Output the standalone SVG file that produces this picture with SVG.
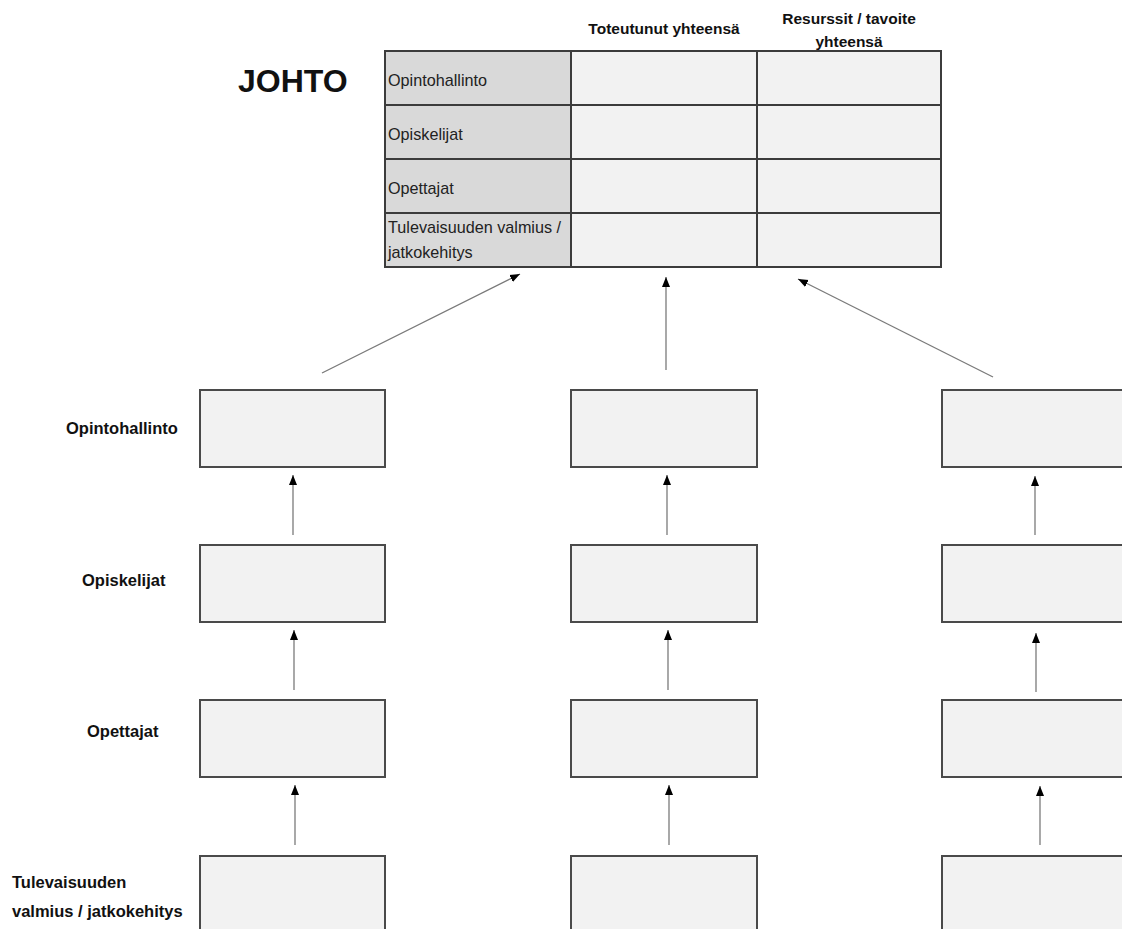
<svg xmlns="http://www.w3.org/2000/svg" width="1122" height="929" viewBox="0 0 1122 929">
<defs>
<marker id="ah" markerUnits="userSpaceOnUse" markerWidth="10" markerHeight="10" viewBox="0 0 10 10" refX="10" refY="5" orient="auto">
<path d="M0,1 L10,5 L0,9 Z" fill="#000"/>
</marker>
<style>
.box{fill:#f2f2f2;stroke:#4a4a4a;stroke-width:2}
.hd{fill:#d9d9d9;stroke:#3c3c3c;stroke-width:2}
.cell{fill:#f2f2f2;stroke:#3c3c3c;stroke-width:2}
.con{stroke:#7a7a7a;stroke-width:1.3;fill:none;marker-end:url(#ah)}
.lbl{font-family:"Liberation Sans",Arial,sans-serif;font-weight:bold;font-size:16.5px;fill:#111}
.cl{font-family:"Liberation Sans",Arial,sans-serif;font-size:16.2px;fill:#222}
.th{font-family:"Liberation Sans",Arial,sans-serif;font-weight:bold;font-size:15.5px;fill:#111}
</style>
</defs>
<rect width="1122" height="929" fill="#fff"/>

<g id="johto-title"><text x="238" y="92" font-family="Liberation Sans,Arial,sans-serif" font-weight="bold" font-size="32" fill="#111">JOHTO</text></g>

<g id="headers">
<text class="th" x="664" y="34" text-anchor="middle">Toteutunut yhteensä</text>
<text class="th" x="849" y="24" text-anchor="middle">Resurssit / tavoite</text>
<text class="th" x="849" y="47" text-anchor="middle">yhteensä</text>
</g>

<g id="johto-table">
<rect class="hd" x="385" y="51" width="186" height="54"/>
<rect class="hd" x="385" y="105" width="186" height="54"/>
<rect class="hd" x="385" y="159" width="186" height="54"/>
<rect class="hd" x="385" y="213" width="186" height="54"/>
<rect class="cell" x="571" y="51" width="186" height="54"/>
<rect class="cell" x="571" y="105" width="186" height="54"/>
<rect class="cell" x="571" y="159" width="186" height="54"/>
<rect class="cell" x="571" y="213" width="186" height="54"/>
<rect class="cell" x="757" y="51" width="184" height="54"/>
<rect class="cell" x="757" y="105" width="184" height="54"/>
<rect class="cell" x="757" y="159" width="184" height="54"/>
<rect class="cell" x="757" y="213" width="184" height="54"/>
<text class="cl" x="388" y="86">Opintohallinto</text>
<text class="cl" x="388" y="140">Opiskelijat</text>
<text class="cl" x="388" y="194">Opettajat</text>
<text class="cl" x="388" y="233">Tulevaisuuden valmius /</text>
<text class="cl" x="388" y="258">jatkokehitys</text>
</g>

<g id="row-labels">
<text class="lbl" x="66" y="434">Opintohallinto</text>
<text class="lbl" x="82" y="586">Opiskelijat</text>
<text class="lbl" x="87" y="737">Opettajat</text>
<text class="lbl" x="12" y="888">Tulevaisuuden</text>
<text class="lbl" x="12" y="917">valmius / jatkokehitys</text>
</g>

<g id="col1">
<rect class="box" x="200" y="390" width="185" height="77"/>
<rect class="box" x="200" y="545" width="185" height="77"/>
<rect class="box" x="200" y="700" width="185" height="77"/>
<rect class="box" x="200" y="856" width="185" height="77"/>
</g>
<g id="col2">
<rect class="box" x="571" y="390" width="186" height="77"/>
<rect class="box" x="571" y="545" width="186" height="77"/>
<rect class="box" x="571" y="700" width="186" height="77"/>
<rect class="box" x="571" y="856" width="186" height="77"/>
</g>
<g id="col3">
<rect class="box" x="942" y="390" width="186" height="77"/>
<rect class="box" x="942" y="545" width="186" height="77"/>
<rect class="box" x="942" y="700" width="186" height="77"/>
<rect class="box" x="942" y="856" width="186" height="77"/>
</g>

<g id="connectors">
<line class="con" x1="322" y1="373" x2="520" y2="274"/>
<line class="con" x1="666" y1="370" x2="666" y2="277"/>
<line class="con" x1="993" y1="377" x2="798" y2="279"/>
<line class="con" x1="293" y1="535" x2="293" y2="475"/>
<line class="con" x1="294" y1="690" x2="294" y2="630"/>
<line class="con" x1="295" y1="845" x2="295" y2="785"/>
<line class="con" x1="667" y1="535" x2="667" y2="475"/>
<line class="con" x1="668" y1="690" x2="668" y2="630"/>
<line class="con" x1="669" y1="845" x2="669" y2="785"/>
<line class="con" x1="1035" y1="535" x2="1035" y2="476"/>
<line class="con" x1="1036" y1="692" x2="1036" y2="633"/>
<line class="con" x1="1040" y1="845" x2="1040" y2="786"/>
</g>
</svg>
